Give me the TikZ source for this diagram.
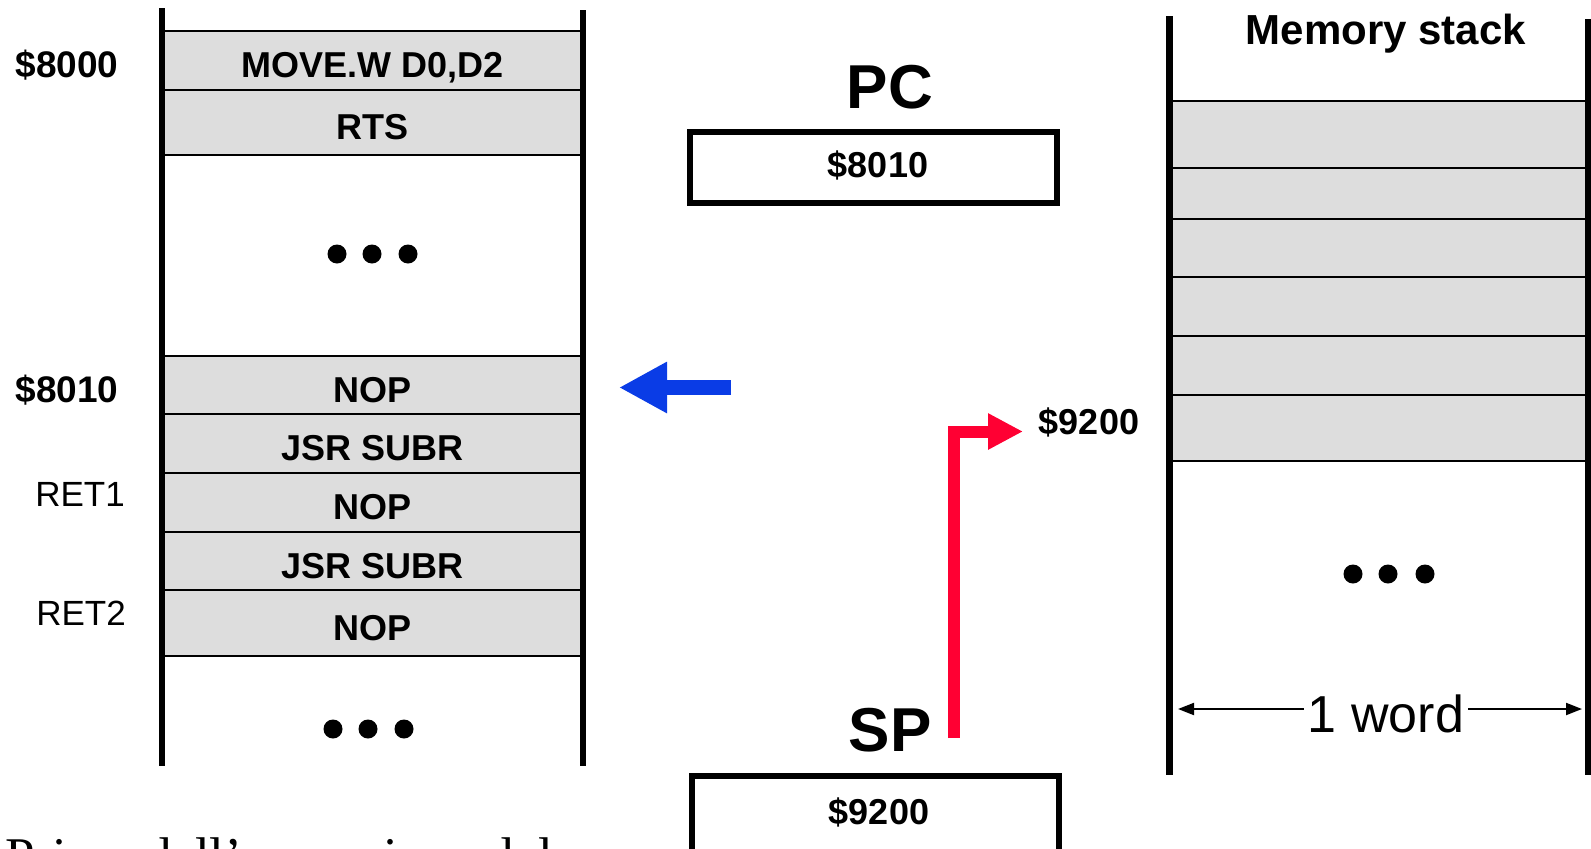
\documentclass[tikz,border=0pt]{standalone}
\usepackage{fontspec}
\setmainfont{Liberation Sans}
\newfontfamily\captionserif{Liberation Serif}
\usetikzlibrary{arrows.meta, positioning}

\definecolor{cellgray}{HTML}{DDDDDD}
\definecolor{ptrblue}{HTML}{0A3CE6}
\definecolor{ptrred}{HTML}{FF0033}

\begin{document}
\begin{tikzpicture}[
    x=1pt, y=-1pt,
    cell/.style={draw, line width=2pt, fill=cellgray, minimum width=421pt,
                 inner sep=0pt, outer sep=0pt, text height=34pt, text depth=0pt,
                 font=\fontsize{36}{40}\selectfont\bfseries},
    addr/.style={font=\fontsize{37}{40}\selectfont\bfseries},
    retlbl/.style={font=\fontsize{35}{40}\selectfont},
    reg/.style={font=\fontsize{62}{66}\selectfont\bfseries},
    regbox/.style={draw, line width=6pt, minimum width=367pt, inner sep=0pt,
                   font=\fontsize{36}{40}\selectfont\bfseries},
    wall/.style={line width=6pt},
    dot/.style={circle, fill, inner sep=0pt, minimum size=19pt}
  ]
  \useasboundingbox (0,0) rectangle (1591,849);

  % program memory
  \node[cell, minimum height=59pt] (move) at (372.5,60.5) {MOVE.W D0,D2};
  \node[cell, minimum height=65pt, below=0pt of move] (rts) {RTS};
  \node[cell, minimum height=58pt] (nopA) at (372.5,385) {NOP};
  \node[cell, minimum height=59pt, below=0pt of nopA] (jsrA) {JSR SUBR};
  \node[cell, minimum height=59pt, below=0pt of jsrA] (nopB) {NOP};
  \node[cell, minimum height=58pt, below=0pt of nopB] (jsrB) {JSR SUBR};
  \node[cell, minimum height=66pt, below=0pt of jsrB] (nopC) {NOP};
  \draw[wall] (162,8) -- (162,766);
  \draw[wall] (583,10) -- (583,766);
  \foreach \x [count=\i] in {337,372,408}
    \node[dot] (dotA\i) at (\x,254) {};
  \foreach \x [count=\i] in {333,368,404}
    \node[dot] (dotB\i) at (\x,729) {};

  \node[addr] (addrA) at (67,65) {\$8000};
  \node[addr] (addrB) at (67,390) {\$8010};
  \node[retlbl] (retA) at (80,494) {RET1};
  \node[retlbl] (retB) at (81,613) {RET2};

  % registers
  \node[reg] (pc) at (890,87) {PC};
  \node[regbox, minimum height=71pt] (pcbox) at (873,167) {};
  \node[font=\fontsize{36}{40}\selectfont\bfseries] (pcval) at (878,165) {\$8010};
  \node[reg] (sp) at (890,730) {SP};
  \node[regbox, minimum height=100pt, anchor=north] (spbox) at (875,773) {};
  \node[font=\fontsize{36}{40}\selectfont\bfseries] (spval) at (879,812) {\$9200};

  \coordinate (pctail) at (731,387.5);
  \coordinate (pchead) at (619,387.5);
  \draw[ptrblue, line width=15pt, -{Triangle[length=48pt,width=48pt]}]
    (pctail) -- (pchead);

  \node[addr, font=\fontsize{36}{40}\selectfont\bfseries] (sptop) at (1089,422) {\$9200};
  \coordinate (sptail) at (954,738);
  \coordinate (sphead) at (1023,431.5);
  \draw[ptrred, line width=12pt, line join=miter,
        -{Triangle[length=35pt,width=34pt]}] (sptail) |- (sphead);

  % memory stack
  \node[font=\fontsize{42}{46}\selectfont\bfseries] (stacktitle) at (1386,34) {Memory stack};
  \foreach \top/\bot [count=\i] in {101/168,168/219,219/277,277/336,336/395,395/461}
    \draw[line width=2pt, fill=cellgray] (1169,\top) rectangle (1588,\bot);
  \draw[line width=7pt] (1169,16) -- (1169,775);
  \draw[line width=7pt] (1588,19) -- (1588,775);
  \foreach \x [count=\i] in {1353,1388,1425}
    \node[dot] (dotC\i) at (\x,574) {};

  \node[font=\fontsize{52}{56}\selectfont, inner sep=4pt] (word) at (1386,714) {1 word};
  \coordinate (wordL) at (1178,709);
  \coordinate (wordR) at (1582,709);
  \draw[line width=2pt, -{Triangle[length=16pt,width=12pt]}] (word.west |- wordL) -- (wordL);
  \draw[line width=2pt, -{Triangle[length=16pt,width=12pt]}] (word.east |- wordR) -- (wordR);

  % caption, cut by the page edge
  \node[anchor=base west, inner sep=0pt, font=\captionserif\fontsize{53}{60}\selectfont]
    (caption) at (5,874) {Prima dell’esecuzione del};
\end{tikzpicture}
\end{document}
